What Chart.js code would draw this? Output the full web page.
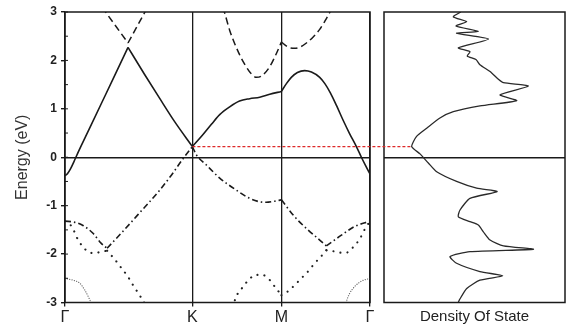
<!DOCTYPE html>
<html><head><meta charset="utf-8">
<script src="https://cdn.jsdelivr.net/npm/chart.js@4.4.1/dist/chart.umd.min.js"></script>
<style>
html,body{margin:0;padding:0;background:#fff;}
#wrap{position:relative;width:566px;height:329px;overflow:hidden;}
#wrap canvas{position:absolute;left:0;top:0;}
</style></head><body>
<div id="wrap"><canvas id="bands" width="566" height="329"></canvas><canvas id="dos" width="566" height="329"></canvas></div>
<script>
// ---------- data ----------
const kPoints = [0, 0.4177, 0.7095, 1];
const kLabels = ['Γ', 'K', 'M', 'Γ'];
const energyRange = [-3, 3];
const yTitle = 'Energy (eV)';
const dosTitle = 'Density Of State';
const fermiMarkE = 0.22;      // red dashed marker level (eV)
const fermiMarkDos = 1.53;    // DOS value where the marker meets the curve

// solid band
const solidGK1 = [[0,-0.38],[0.008,-0.34],[0.018,-0.24],[0.028,-0.11],[0.040,0.06],[0.08,0.59],[0.12,1.12],[0.16,1.65],[0.2066,2.27]];
const solidGK2 = [[0.2066,2.27],[0.26,1.72],[0.31,1.22],[0.36,0.73],[0.4177,0.22]];
const solidKM  = [[0.4177,0.22],[0.4525,0.47],[0.48,0.68],[0.5072,0.88],[0.54,1.04],[0.5722,1.16],[0.6056,1.21],[0.6384,1.24],[0.6713,1.30],[0.7095,1.36]];
const solidMG  = [[0.7095,1.36],[0.7259,1.52],[0.742,1.65],[0.762,1.75],[0.7859,1.79],[0.808,1.76],[0.8351,1.65],[0.852,1.52],[0.870,1.33],[0.890,1.07],[0.9115,0.77],[0.933,0.49],[0.9554,0.22],[0.9718,0.0],[0.986,-0.18],[1.0,-0.35]];
// dashed band
const dashGK1 = [[0.1215,3.1],[0.2066,2.36]];
const dashGK2 = [[0.2066,2.36],[0.2707,3.1]];
const dashKM  = [[0.5171,3.1],[0.5236,2.98],[0.540,2.62],[0.570,2.15],[0.595,1.86],[0.610,1.73],[0.6275,1.65],[0.645,1.68],[0.6712,1.87],[0.690,2.10],[0.7095,2.38]];
const dashMG  = [[0.7095,2.38],[0.730,2.28],[0.7531,2.25],[0.772,2.28],[0.7915,2.36],[0.813,2.48],[0.8351,2.64],[0.852,2.81],[0.8679,2.99],[0.876,3.1]];
// dash-dot band
const ddGK1 = [[0,-1.32],[0.03,-1.34],[0.059,-1.41],[0.0918,-1.57],[0.119,-1.78],[0.138,-1.88]];
const ddGK2 = [[0.138,-1.88],[0.19,-1.53],[0.24,-1.18],[0.3105,-0.68],[0.35,-0.36],[0.387,-0.03],[0.4177,0.22]];
const ddKM  = [[0.4177,0.22],[0.4308,0.05],[0.4636,-0.16],[0.5072,-0.43],[0.562,-0.68],[0.6056,-0.85],[0.6384,-0.92],[0.660,-0.93],[0.685,-0.91],[0.7095,-0.88]];
const ddMG1 = [[0.7095,-0.88],[0.7531,-1.23],[0.7967,-1.50],[0.8351,-1.71],[0.857,-1.83]];
const ddMG2 = [[0.857,-1.83],[0.9063,-1.61],[0.9498,-1.43],[1.0,-1.32]];
// dotted band
const dotGK1 = [[0,-1.32],[0.0243,-1.45],[0.0374,-1.64],[0.0538,-1.81],[0.0754,-1.95],[0.0974,-1.98],[0.1193,-1.95],[0.138,-1.93]];
const dotGK2 = [[0.138,-1.93],[0.163,-2.11],[0.185,-2.29],[0.2066,-2.47],[0.223,-2.64],[0.2426,-2.83],[0.26,-3.0],[0.27,-3.1]];
const dotKM  = [[0.551,-3.1],[0.5597,-2.90],[0.5784,-2.72],[0.600,-2.55],[0.6252,-2.43],[0.6472,-2.43],[0.6689,-2.52],[0.6875,-2.67],[0.7095,-2.85]];
const dotMG1 = [[0.7095,-2.85],[0.7311,-2.77],[0.7531,-2.64],[0.775,-2.50],[0.7967,-2.36],[0.8187,-2.19],[0.8407,-2.04],[0.857,-1.92]];
const dotMG2 = [[0.857,-1.92],[0.8787,-1.94],[0.9006,-1.97],[0.9226,-1.97],[0.9443,-1.86],[0.9662,-1.69],[0.9826,-1.49],[1.0,-1.32]];
// fine dotted band
const fineL = [[0,-2.50],[0.0262,-2.54],[0.0482,-2.60],[0.0646,-2.74],[0.0787,-2.91],[0.085,-3.0],[0.09,-3.1]];
const fineR = [[0.918,-3.1],[0.9226,-2.98],[0.9334,-2.81],[0.9498,-2.67],[0.9718,-2.56],[1.0,-2.50]];

// density of states (energy, DOS value)
const dosE = [3.0,2.90,2.80,2.71,2.60,2.56,2.44,2.26,2.18,2.09,2.02,1.91,1.77,1.61,1.54,1.47,1.29,1.17,1.06,0.94,0.81,0.60,0.43,0.22,0.07,-0.12,-0.30,-0.50,-0.64,-0.71,-0.85,-1.09,-1.23,-1.33,-1.40,-1.54,-1.71,-1.83,-1.90,-1.95,-2.05,-2.19,-2.36,-2.45,-2.54,-2.71,-2.95,-3.0];
const dosV = [4.24,3.83,4.57,3.98,5.21,4.01,5.77,4.11,4.75,4.60,5.08,5.30,5.86,6.32,6.60,7.97,6.41,7.33,5.30,3.83,3.09,2.36,1.80,1.53,1.99,2.45,2.91,4.01,5.12,6.25,4.75,4.20,4.11,4.75,5.21,5.49,5.86,6.60,8.25,4.75,3.65,4.01,5.30,6.56,5.30,4.57,4.16,4.10];

// ---------- styles ----------
const F = "'Liberation Sans', Arial, sans-serif";
const INK = '#1a1a1a';
const STY = {
  solid:   {borderColor: INK, borderWidth: 1.6, borderDash: []},
  dash:    {borderColor: INK, borderWidth: 1.5, borderDash: [7, 4]},
  dashdot: {borderColor: INK, borderWidth: 1.6, borderDash: [6, 3, 1.5, 3]},
  dot:     {borderColor: '#222', borderWidth: 2.1, borderDash: [0.1, 7], borderCapStyle: 'round'},
  fine:    {borderColor: '#666', borderWidth: 1.2, borderDash: [0.1, 2.3], borderCapStyle: 'round'}
};
const groups = [
  ['solid',   [solidGK1, solidGK2, solidKM, solidMG]],
  ['dash',    [dashGK1, dashGK2, dashKM, dashMG]],
  ['dashdot', [ddGK1, ddGK2, ddKM, ddMG1, ddMG2]],
  ['dot',     [dotGK1, dotGK2, dotKM, dotMG1, dotMG2]],
  ['fine',    [fineL, fineR]]
];
const datasets = [];
groups.forEach(([st, segs]) => segs.forEach(s => datasets.push(Object.assign({
  data: s.map(p => ({x: p[0], y: p[1]})),
  pointRadius: 0, fill: false, cubicInterpolationMode: 'monotone', borderJoinStyle: 'round'
}, STY[st]))));

const framePlugin = {
  id: 'frame',
  afterDatasetsDraw(chart) {
    const {ctx, chartArea: a} = chart;
    ctx.save(); ctx.strokeStyle = INK; ctx.lineWidth = 1.5;
    ctx.strokeRect(a.left, a.top, a.right - a.left, a.bottom - a.top);
    ctx.restore();
  }
};
const innerTicks = {
  id: 'innerTicks',
  afterDatasetsDraw(chart) {
    const {ctx, chartArea: a} = chart; const y = chart.scales.y;
    ctx.save(); ctx.strokeStyle = INK; ctx.lineWidth = 1;
    y.ticks.forEach(t => { const py = y.getPixelForValue(t.value);
      ctx.beginPath(); ctx.moveTo(a.left, py); ctx.lineTo(a.left + 3, py); ctx.stroke(); });
    ctx.restore();
  }
};

const bandsChart = new Chart(document.getElementById('bands'), {
  type: 'line',
  data: {datasets},
  options: {
    responsive: false, animation: false,
    layout: {padding: {left: 0, top: 12, right: 196, bottom: 0}},
    plugins: {legend: {display: false}, tooltip: {enabled: false}},
    scales: {
      x: {
        type: 'linear', min: 0, max: 1,
        afterBuildTicks: s => { s.ticks = kPoints.map(v => ({value: v})); },
        afterFit: s => { s.height = 26.5; },
        ticks: {autoSkip: false, maxRotation: 0, color: '#222', padding: 1,
          font: {family: F, size: 16}, callback: (v, i) => kLabels[i]},
        grid: {color: INK, lineWidth: 1.3, tickLength: 4, tickColor: INK},
        border: {display: false}
      },
      y: {
        type: 'linear', min: energyRange[0], max: energyRange[1],
        afterFit: s => { s.width = 65; },
        ticks: {stepSize: 0.5, autoSkip: false, color: '#222', padding: 4,
          font: {family: F, size: 12, weight: 'bold'},
          callback: v => Number.isInteger(v) ? String(v) : ''},
        grid: {
          color: c => (c.tick && c.tick.value === 0) ? INK : 'rgba(0,0,0,0)',
          lineWidth: 1.4, tickLength: 4,
          tickColor: c => (c.tick && Number.isInteger(c.tick.value)) ? INK : 'rgba(0,0,0,0)'
        },
        border: {display: false},
        title: {display: true, text: yTitle, color: '#333', font: {family: F, size: 16}, padding: {top: 13, bottom: 0}}
      }
    }
  },
  plugins: [framePlugin, innerTicks]
});

const redMarker = {
  id: 'redMarker',
  afterDatasetsDraw(chart) {
    const {ctx} = chart;
    const x0 = bandsChart.scales.x.getPixelForValue(kPoints[1]);
    const x1 = chart.scales.x.getPixelForValue(fermiMarkDos);
    const y = chart.scales.y.getPixelForValue(fermiMarkE);
    ctx.save(); ctx.strokeStyle = '#dd2a2a'; ctx.lineWidth = 1.2; ctx.setLineDash([3, 2]);
    ctx.beginPath(); ctx.moveTo(x0, y); ctx.lineTo(x1, y); ctx.stroke(); ctx.restore();
  }
};

new Chart(document.getElementById('dos'), {
  type: 'line',
  data: {datasets: [{
    data: dosE.map((e, i) => ({x: dosV[i], y: e})),
    borderColor: '#2a2a2a', borderWidth: 1.3, pointRadius: 0, fill: false, tension: 0.2
  }]},
  options: {
    responsive: false, animation: false,
    layout: {padding: {left: 384, top: 12, right: 1, bottom: 0}},
    plugins: {legend: {display: false}, tooltip: {enabled: false}},
    scales: {
      x: {
        type: 'linear', min: 0, max: 10,
        afterFit: s => { s.height = 26.5; },
        ticks: {display: false}, grid: {display: false}, border: {display: false},
        title: {display: true, text: dosTitle, color: '#222', font: {family: F, size: 15}, padding: {top: 0, bottom: 3}}
      },
      y: {
        type: 'linear', min: energyRange[0], max: energyRange[1],
        afterFit: s => { s.width = 0; },
        ticks: {display: false, stepSize: 1},
        grid: {color: c => (c.tick && c.tick.value === 0) ? INK : 'rgba(0,0,0,0)', lineWidth: 1.4, drawTicks: false},
        border: {display: false}
      }
    }
  },
  plugins: [framePlugin, redMarker]
});
</script>
</body></html>
